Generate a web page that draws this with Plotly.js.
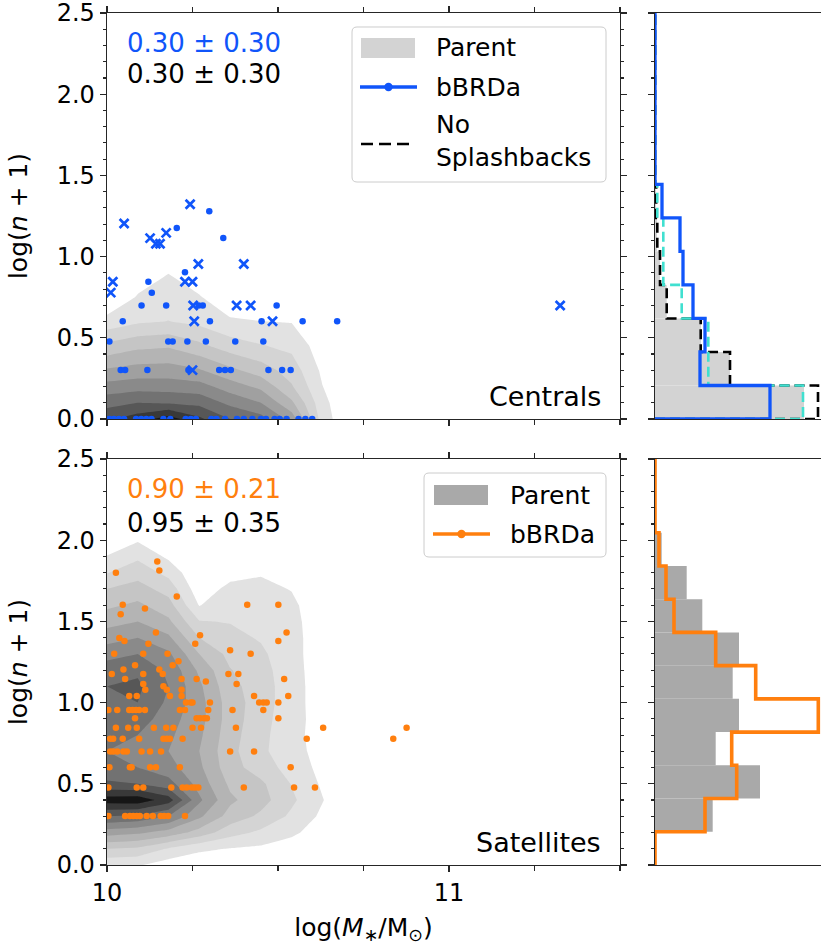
<!DOCTYPE html>
<html><head><meta charset="utf-8">
<script src="https://cdn.plot.ly/plotly-3.0.1.min.js"></script>
<style>html,body{margin:0;padding:0;background:#fff;overflow:hidden}</style>
</head><body>
<div id="chart" style="width:821px;height:945px"></div>
<script>
// ================= DATA =================
// Centrals: bBRDa galaxies (log M*, log(n+1))
const cenDots = [
 [10.007,0],[10.02,0],[10.035,0],[10.05,0],[10.085,0],[10.10,0],[10.115,0],[10.13,0],[10.165,0],[10.185,0],
 [10.23,0],[10.245,0],[10.26,0],[10.305,0],[10.32,0],[10.345,0],[10.38,0],[10.40,0],[10.425,0],[10.45,0],
 [10.465,0],[10.49,0],[10.505,0],[10.525,0],[10.56,0],[10.58,0],[10.60,0],
 [10.040,0.301],[10.053,0.301],[10.118,0.301],[10.238,0.301],[10.328,0.301],[10.345,0.301],[10.362,0.301],[10.472,0.301],[10.512,0.301],[10.537,0.301],
 [10.007,0.477],[10.179,0.477],[10.192,0.477],[10.235,0.477],[10.289,0.477],[10.375,0.477],[10.457,0.477],
 [10.046,0.602],[10.301,0.602],[10.452,0.602],[10.572,0.602],[10.673,0.602],
 [10.101,0.699],[10.173,0.699],[10.268,0.699],[10.280,0.699],[10.496,0.699],
 [10.131,0.778],[10.121,0.845],[10.228,0.903],[10.340,1.114],[10.204,1.176],[10.299,1.279]
];
// Centrals: splashback (x markers)
const cenCross = [
 [10.017,0.845],[10.011,0.778],[10.050,1.204],[10.126,1.114],[10.143,1.079],[10.155,1.079],[10.173,1.146],
 [10.243,1.322],[10.228,0.845],[10.250,0.845],[10.267,0.954],[10.252,0.699],[10.255,0.602],[10.250,0.301],
 [10.379,0.699],[10.400,0.954],[10.420,0.699],[10.484,0.602],[11.325,0.699]
];
// Satellites: bBRDa galaxies
const satDots = [
 [10.026,1.799],[10.147,1.869],[10.153,1.813],[10.204,1.653],
 [10.046,1.602],[10.410,1.602],[10.501,1.602],[10.040,1.544],[10.111,1.580],
 [10.143,1.431],[10.525,1.431],[10.121,1.362],[10.258,1.362],[10.036,1.398],[10.051,1.380],[10.501,1.380],
 [10.021,1.301],[10.106,1.301],[10.177,1.301],[10.420,1.301],[10.272,1.415],[10.360,1.322],
 [10.209,1.255],[10.192,1.230],[10.082,1.230],[10.048,1.204],[10.153,1.204],
 [10.014,1.176],[10.106,1.176],[10.163,1.176],[10.355,1.176],[10.384,1.176],
 [10.053,1.146],[10.218,1.146],[10.262,1.146],[10.518,1.146],[10.289,1.130],
 [10.106,1.114],[10.379,1.114],[10.112,1.079],[10.165,1.100],[10.175,1.079],[10.218,1.079],
 [10.184,1.041],[10.065,1.041],[10.087,1.041],[10.218,1.041],[10.430,1.041],[10.530,1.041],
 [10.231,1.000],[10.245,1.000],[10.250,1.000],[10.301,1.000],[10.445,1.000],[10.457,1.000],[10.467,1.000],[10.501,1.000],
 [10.004,0.954],[10.030,0.954],[10.065,0.954],[10.075,0.954],[10.085,0.954],[10.094,0.954],[10.111,0.954],[10.213,0.954],[10.228,0.954],[10.296,0.954],[10.367,0.954],[10.457,0.954],
 [10.082,0.903],[10.262,0.903],[10.272,0.903],[10.284,0.903],[10.292,0.903],[10.501,0.903],
 [10.026,0.845],[10.062,0.845],[10.087,0.845],[10.137,0.845],[10.173,0.845],[10.194,0.845],[10.250,0.845],[10.275,0.845],[10.377,0.845],[10.632,0.845],[10.876,0.845],
 [10.009,0.778],[10.018,0.778],[10.046,0.778],[10.094,0.778],[10.165,0.778],[10.175,0.778],[10.184,0.778],[10.221,0.778],[10.584,0.778],[10.837,0.778],
 [10.009,0.699],[10.018,0.699],[10.030,0.699],[10.048,0.699],[10.058,0.699],[10.101,0.699],[10.126,0.699],[10.158,0.699],[10.360,0.699],[10.430,0.699],
 [10.007,0.602],[10.067,0.602],[10.072,0.602],[10.126,0.602],[10.143,0.602],[10.213,0.602],[10.537,0.602],
 [10.004,0.477],[10.087,0.477],[10.106,0.477],[10.188,0.477],[10.221,0.477],[10.233,0.477],[10.248,0.477],[10.257,0.477],[10.267,0.477],[10.400,0.477],[10.547,0.477],[10.608,0.477],
 [10.004,0.301],[10.053,0.301],[10.067,0.301],[10.077,0.301],[10.087,0.301],[10.096,0.301],[10.116,0.301],[10.134,0.301],[10.157,0.301],[10.167,0.301],[10.179,0.301],[10.228,0.301]
];

// Parent-sample density (contour level index) on a coarse grid
const cenGridX = [10.0, 10.09, 10.18, 10.27, 10.36, 10.45, 10.54, 10.63, 10.72];
const cenGridY = [0, 0.1, 0.2, 0.3, 0.45, 0.6, 0.75, 0.9, 1.05];
const cenGridZ = [ // rows = y, cols = x
 [8.8, 9.5, 10.5, 9.2, 8.0, 7.4, 5.6, 1.5, 0],
 [7.63, 8.0, 7.86, 7.7, 6.75, 6.0, 4.2, 1.3, 0],
 [6.38, 6.6, 6.56, 6.4, 5.5, 4.75, 3.1, 1.02, 0],
 [5.13, 5.4, 5.44, 5.1, 4.25, 3.5, 2.55, 0.8, 0],
 [3.25, 3.75, 3.89, 3.25, 2.5, 2.07, 1.74, 0.45, 0],
 [1.38, 1.85, 2.02, 1.74, 1.17, 1.02, 0.95, 0.2, 0],
 [0, 1.1, 1.5, 1.09, 0.2, 0.2, 0.2, 0, 0],
 [0, 0.35, 0.98, 0.3, 0, 0, 0, 0, 0],
 [0, 0, 0.3, 0, 0, 0, 0, 0, 0]
];
const satGridX = [10.0, 10.09, 10.18, 10.27, 10.36, 10.45, 10.54, 10.63, 10.72];
const satGridY = [0,0.1,0.2,0.3,0.4,0.5,0.6,0.7,0.8,0.9,1.0,1.1,1.2,1.3,1.4,1.5,1.6,1.7,1.8,1.9,2.0,2.1];
const satGridZ = [
 [1.2, 1.1, 0.5, 0.3, 0.2, 0, 0, 0, 0],
 [3.0, 2.8, 1.9, 1.2, 0.95, 0.8, 0.5, 0.1, 0],
 [5.5, 5.2, 4.6, 3.6, 2.4, 1.8, 1.2, 0.5, 0],
 [8.0, 7.8, 7.0, 5.2, 3.6, 2.8, 1.8, 0.8, 0],
 [10.5, 10.6, 9.5, 6.2, 4.2, 3.4, 2.2, 1.05, 0],
 [8.2, 8.0, 7.4, 5.6, 3.8, 3.2, 1.95, 0.85, 0],
 [7.2, 7.0, 6.4, 5.2, 3.4, 2.5, 1.6, 0.7, 0],
 [7.0, 6.8, 6.0, 5.0, 3.3, 2.2, 1.4, 0.6, 0],
 [7.2, 7.0, 6.2, 5.2, 3.4, 2.3, 1.3, 0.6, 0],
 [7.8, 7.6, 6.4, 5.4, 3.5, 2.4, 1.35, 0.6, 0],
 [8.0, 8.0, 6.8, 5.4, 3.5, 2.5, 1.4, 0.5, 0],
 [8.0, 8.2, 7.0, 5.2, 3.3, 2.5, 1.4, 0.5, 0],
 [7.6, 7.8, 6.8, 4.8, 3.05, 2.4, 1.35, 0.5, 0],
 [6.6, 7.0, 6.2, 4.0, 2.7, 2.2, 1.3, 0.5, 0],
 [5.6, 6.0, 5.2, 3.0, 2.3, 1.9, 1.3, 0.5, 0],
 [4.6, 5.0, 4.2, 2.05, 1.95, 1.7, 1.3, 0.4, 0],
 [3.8, 4.2, 3.4, 0.95, 1.7, 1.5, 1.25, 0.2, 0],
 [3.0, 3.4, 2.6, 0.4, 1.3, 1.3, 0.95, 0, 0],
 [1.95, 2.6, 1.7, 0.1, 0.6, 0.9, 0, 0, 0],
 [1.05, 1.8, 0.8, 0, 0, 0, 0, 0, 0],
 [0.2, 0.9, 0.1, 0, 0, 0, 0, 0, 0],
 [0, 0, 0, 0, 0, 0, 0, 0, 0]
];

// Marginal histograms of log(n+1) (arbitrary density units)
const cenBinEdges = [0,0.2064,0.4128,0.6192,0.8256,1.032,1.2384,1.4448,1.6512,1.8576,2.064,2.2704,2.4768,2.6832];
const cenHistParent   = [149, 75, 46, 11.7, 5, 2, 1, 0, 0, 0, 0, 0, 0];
const cenHistNoSplash = [163, 75, 45.7, 11.7, 5, 2.3, 1.2, 0, 0, 0, 0, 0, 0];
const cenHistAlt      = [148, 53.3, 53.3, 26.7, 8.3, 8.3, 2.3, 0, 0, 0, 0, 0, 0];
const cenHistBBRDa    = [115, 45, 50, 38, 28, 25, 7, 0, 0, 0, 0, 0, 0];
const satBinEdges = [0,0.2046,0.4092,0.6138,0.8184,1.023,1.2276,1.4322,1.6368,1.8414,2.046,2.2506,2.4552,2.6598];
const satHistParent = [0, 57.7, 105, 60.7, 84, 77.7, 84, 47.3, 31.7, 6.7, 0, 0, 0];
const satHistBBRDa  = [0, 50, 81.7, 76.7, 163.3, 100.7, 60.7, 19, 11, 4, 0, 0, 0];

const cenStats = ['0.30 ± 0.30', '0.30 ± 0.30'];
const satStats = ['0.90 ± 0.21', '0.95 ± 0.35'];
const panelNames = ['Centrals', 'Satellites'];
const legendNames = ['Parent', 'bBRDa', 'No<br>Splashbacks'];
const xTickVals = [10, 11];

// ================= STYLE / LAYOUT =================
const BLUE = '#1055fa', ORANGE = '#ff7f0e', TURQ = '#40e0d0';
const FONT = 'DejaVu Sans';
const AX = '#262626';
const W = 821, H = 945, ML = 107, MR = 0, MT = 13, MB = 80;
const PW = W - ML - MR, PH = H - MT - MB;
const px = x => (x - ML) / PW;
const py = y => (H - MB - y) / PH;

const greys = [[0,'rgba(255,255,255,0)'],[0.1,'#e2e2e2'],[0.2,'#d4d4d4'],[0.3,'#c5c5c5'],[0.4,'#b4b4b4'],
  [0.5,'#a0a0a0'],[0.6,'#8a8a8a'],[0.7,'#727272'],[0.8,'#575757'],[0.9,'#393939'],[1,'#161616']];

function contour(gx, gy, gz, xa, ya) {
  return {type:'contour', x:gx, y:gy, z:gz, xaxis:xa, yaxis:ya, autocontour:false,
    contours:{start:1, end:10, size:1, coloring:'fill', showlines:false},
    line:{width:0, smoothing:0}, colorscale:greys, showscale:false, hoverinfo:'skip'};
}
function pts(arr, xa, ya, color, cross) {
  const m = cross ? {symbol:'x-thin', size:9, line:{width:2.7, color:color}, color:color}
                  : {symbol:'circle', size:6.5, color:color, line:{width:0}};
  return {type:'scatter', mode:'markers', x:arr.map(p=>p[0]), y:arr.map(p=>p[1]),
    xaxis:xa, yaxis:ya, marker:m, hoverinfo:'skip', showlegend:false};
}
function stepLine(edges, vals, xa, ya, color, width, dash) {
  const xs = [0], ys = [edges[0]];
  for (let i = 0; i < vals.length; i++) { xs.push(vals[i]); ys.push(edges[i]); }
  xs.push(vals[vals.length-1]); ys.push(edges[vals.length]);
  xs.push(0); ys.push(edges[vals.length]);
  return {type:'scatter', mode:'lines', x:xs, y:ys, xaxis:xa, yaxis:ya,
    line:{shape:'vh', color:color, width:width, dash:dash||'solid'}, hoverinfo:'skip', showlegend:false};
}
function histBars(edges, vals, xa, ya, color) {
  const c = [], w = [];
  for (let i = 0; i < vals.length; i++) { c.push((edges[i]+edges[i+1])/2); w.push(edges[i+1]-edges[i]); }
  return {type:'bar', orientation:'h', y:c, x:vals, width:w, xaxis:xa, yaxis:ya,
    marker:{color:color, line:{width:0}}, hoverinfo:'skip', showlegend:false};
}

const data = [
  contour(cenGridX, cenGridY, cenGridZ, 'x', 'y'),
  pts(cenDots, 'x', 'y', BLUE, false),
  pts(cenCross, 'x', 'y', BLUE, true),
  histBars(cenBinEdges, cenHistParent, 'x2', 'y2', '#d3d3d3'),
  stepLine(cenBinEdges, cenHistNoSplash, 'x2', 'y2', '#000000', 2.6, '10px,5px'),
  stepLine(cenBinEdges, cenHistAlt, 'x2', 'y2', TURQ, 2.6, '10px,5px'),
  stepLine(cenBinEdges, cenHistBBRDa, 'x2', 'y2', BLUE, 3.3),
  contour(satGridX, satGridY, satGridZ, 'x3', 'y3'),
  pts(satDots, 'x3', 'y3', ORANGE, false),
  histBars(satBinEdges, satHistParent, 'x4', 'y4', '#a9a9a9'),
  stepLine(satBinEdges, satHistBBRDa, 'x4', 'y4', ORANGE, 3.6)
];

const xMainDom = [0, px(620)], xHistDom = [px(655), 1];
const yTopDom = [py(419), 1], yBotDom = [0, py(459)];

function mainX(dom, anchor, labels, title) {
  const a = {domain:dom, anchor:anchor, range:[10, 11.5], showline:true, linecolor:AX, linewidth:1.3,
    mirror:'ticks', ticks:'outside', ticklen:6, tickwidth:1.3, tickcolor:AX,
    tickmode:'array', tickvals:xTickVals, ticktext:xTickVals.map(String), showticklabels:labels,
    minor:{tickmode:'linear', tick0:10, dtick:0.25, ticks:'outside', ticklen:5, tickwidth:1.2, tickcolor:AX},
    showgrid:false, zeroline:false, tickfont:{family:FONT, size:24, color:'#000'}};
  if (title) a.title = {text:title, font:{family:FONT, size:25, color:'#000'}, standoff:16};
  return a;
}
function mainY(dom, anchor) {
  return {domain:dom, anchor:anchor, range:[0, 2.5], showline:true, linecolor:AX, linewidth:1.3,
    mirror:'ticks', ticks:'outside', ticklen:6, tickwidth:1.3, tickcolor:AX, tick0:0, dtick:0.5,
    tickformat:'.1f', ticklabeloverflow:'allow',
    minor:{tick0:0, dtick:0.1, ticks:'outside', ticklen:3, tickwidth:1.1, tickcolor:AX},
    showgrid:false, zeroline:false, tickfont:{family:FONT, size:24, color:'#000'},
    title:{text:'log(<i>n</i> + 1)', font:{family:FONT, size:25, color:'#000'}, standoff:22}};
}
function histX(anchor) {
  return {domain:xHistDom, anchor:anchor, range:[0, 166], showline:true, linecolor:AX, linewidth:1.3,
    mirror:true, ticks:'', showticklabels:false, showgrid:false, zeroline:false};
}
function histY(dom, anchor) {
  return {domain:dom, anchor:anchor, range:[0, 2.5], showline:true, linecolor:AX, linewidth:1.3,
    mirror:false, ticks:'outside', ticklen:6, tickwidth:1.3, tickcolor:AX, tick0:0, dtick:0.5,
    showticklabels:false, minor:{tick0:0, dtick:0.1, ticks:'outside', ticklen:3, tickwidth:1.1, tickcolor:AX},
    showgrid:false, zeroline:false};
}

function ann(text, x, y, color, size, xanchor, align) {
  return {text:text, xref:'paper', yref:'paper', x:px(x), y:py(y), xanchor:xanchor||'left', yanchor:'middle',
    align:align||'left', showarrow:false, font:{family:FONT, size:size, color:color}};
}
function rrect(x0, y0, x1, y1, r) {
  const P = (x, y) => px(x).toFixed(5) + ',' + py(y).toFixed(5);
  return 'M' + P(x0+r, y0) + ' L' + P(x1-r, y0) + ' Q' + P(x1, y0) + ' ' + P(x1, y0+r) +
    ' L' + P(x1, y1-r) + ' Q' + P(x1, y1) + ' ' + P(x1-r, y1) + ' L' + P(x0+r, y1) +
    ' Q' + P(x0, y1) + ' ' + P(x0, y1-r) + ' L' + P(x0, y0+r) + ' Q' + P(x0, y0) + ' ' + P(x0+r, y0) + ' Z';
}
function prect(x0, y0, x1, y1, fill) {
  return {type:'rect', xref:'paper', yref:'paper', x0:px(x0), x1:px(x1), y0:py(y1), y1:py(y0), fillcolor:fill, line:{width:0}};
}
function pline(x0, x1, y, color, width, dash) {
  return {type:'line', xref:'paper', yref:'paper', x0:px(x0), x1:px(x1), y0:py(y), y1:py(y), line:{color:color, width:width, dash:dash||'solid'}};
}
function pdot(cx, cy, r, color) {
  return {type:'circle', xref:'paper', yref:'paper', x0:px(cx-r), x1:px(cx+r), y0:py(cy+r), y1:py(cy-r), fillcolor:color, line:{width:0}};
}

const shapes = [
  {type:'path', xref:'paper', yref:'paper', path:rrect(352, 27, 606, 182, 5), fillcolor:'rgba(255,255,255,0.8)', line:{color:'#cccccc', width:1}},
  prect(361, 38, 415, 58, '#d3d3d3'),
  pline(360, 417, 87, BLUE, 3.6), pdot(388.5, 87, 4.2, BLUE),
  pline(361, 414, 144, '#000000', 2.6, '12px,6px'),
  {type:'path', xref:'paper', yref:'paper', path:rrect(424, 473, 606, 557, 5), fillcolor:'rgba(255,255,255,0.8)', line:{color:'#cccccc', width:1}},
  prect(434, 485, 488, 505, '#a9a9a9'),
  pline(433, 490, 534, ORANGE, 3.6), pdot(461.5, 534, 4.2, ORANGE)
];

const annotations = [
  ann(cenStats[0], 125, 43, BLUE, 26), ann(cenStats[1], 125, 74, '#000', 26),
  ann(satStats[0], 125, 489, ORANGE, 26), ann(satStats[1], 125, 523, '#000', 26),
  ann(panelNames[0], 603, 396, '#000', 27, 'right'), ann(panelNames[1], 603, 842, '#000', 27, 'right'),
  ann(legendNames[0], 434, 48, '#000', 25), ann(legendNames[1], 434, 87, '#000', 25),
  ann(legendNames[2], 434, 141, '#000', 25),
  ann(legendNames[0], 508, 495, '#000', 25), ann(legendNames[1], 508, 534, '#000', 25)
];

const layout = {
  width:W, height:H, margin:{l:ML, r:MR, t:MT, b:MB}, paper_bgcolor:'#fff', plot_bgcolor:'rgba(0,0,0,0)',
  showlegend:false, barmode:'overlay', font:{family:FONT, color:'#000'},
  xaxis: mainX(xMainDom, 'y', false),
  yaxis: mainY(yTopDom, 'x'),
  xaxis2: histX('y2'), yaxis2: histY(yTopDom, 'x2'),
  xaxis3: mainX(xMainDom, 'y3', true, 'log(<i>M</i><sub>∗</sub>/M<sub>⊙</sub>)'),
  yaxis3: mainY(yBotDom, 'x3'),
  xaxis4: histX('y4'), yaxis4: histY(yBotDom, 'x4'),
  shapes: shapes, annotations: annotations
};

Plotly.newPlot('chart', data, layout, {staticPlot:true, displayModeBar:false});
</script>
</body></html>
